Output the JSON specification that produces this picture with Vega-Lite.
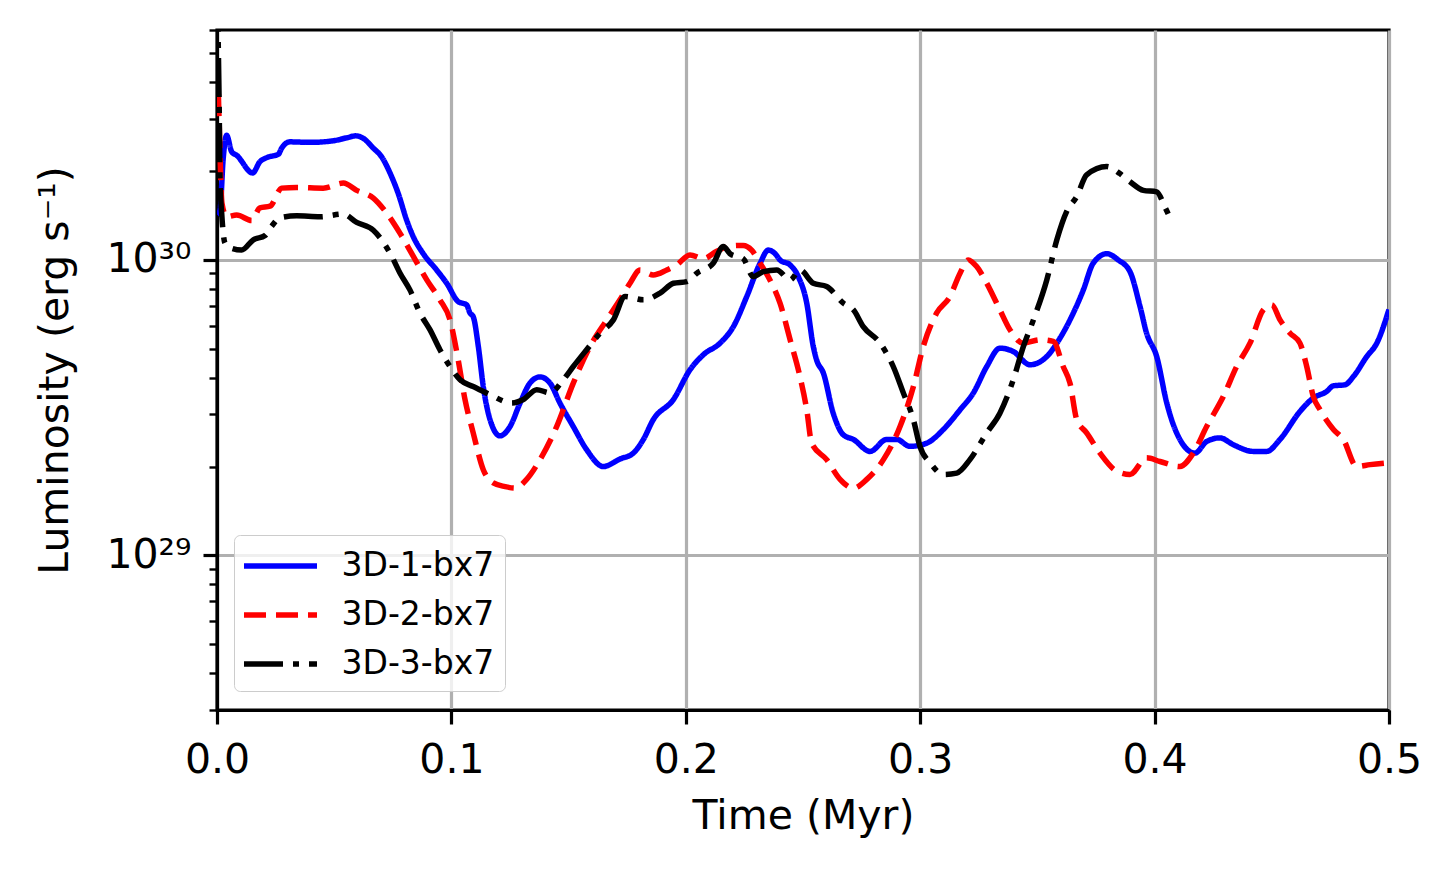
{
  "$schema": "https://vega.github.io/schema/vega-lite/v6.json",
  "description": "Luminosity of three 3D runs over time.",
  "background": "white",
  "autosize": {"type": "none"},
  "padding": {"left": 217, "top": 30, "right": 63, "bottom": 160},
  "width": 1172,
  "height": 680,
  "data": {
    "values": [
      {"s": "3D-1-bx7", "t": 0.0002, "L": 1.42e30},
      {"s": "3D-1-bx7", "t": 0.0013, "L": 1.475e30},
      {"s": "3D-1-bx7", "t": 0.0026, "L": 2.18e30},
      {"s": "3D-1-bx7", "t": 0.0041, "L": 2.64e30},
      {"s": "3D-1-bx7", "t": 0.0063, "L": 2.32e30},
      {"s": "3D-1-bx7", "t": 0.0084, "L": 2.26e30},
      {"s": "3D-1-bx7", "t": 0.0152, "L": 1.97e30},
      {"s": "3D-1-bx7", "t": 0.0183, "L": 2.15e30},
      {"s": "3D-1-bx7", "t": 0.0212, "L": 2.22e30},
      {"s": "3D-1-bx7", "t": 0.0262, "L": 2.28e30},
      {"s": "3D-1-bx7", "t": 0.0276, "L": 2.39e30},
      {"s": "3D-1-bx7", "t": 0.0311, "L": 2.51e30},
      {"s": "3D-1-bx7", "t": 0.0397, "L": 2.50e30},
      {"s": "3D-1-bx7", "t": 0.0495, "L": 2.53e30},
      {"s": "3D-1-bx7", "t": 0.0553, "L": 2.59e30},
      {"s": "3D-1-bx7", "t": 0.0592, "L": 2.63e30},
      {"s": "3D-1-bx7", "t": 0.0624, "L": 2.58e30},
      {"s": "3D-1-bx7", "t": 0.0667, "L": 2.39e30},
      {"s": "3D-1-bx7", "t": 0.0703, "L": 2.23e30},
      {"s": "3D-1-bx7", "t": 0.0738, "L": 1.97e30},
      {"s": "3D-1-bx7", "t": 0.0773, "L": 1.68e30},
      {"s": "3D-1-bx7", "t": 0.0809, "L": 1.365e30},
      {"s": "3D-1-bx7", "t": 0.0837, "L": 1.20e30},
      {"s": "3D-1-bx7", "t": 0.0880, "L": 1.05e30},
      {"s": "3D-1-bx7", "t": 0.0937, "L": 9.25e29},
      {"s": "3D-1-bx7", "t": 0.0980, "L": 8.34e29},
      {"s": "3D-1-bx7", "t": 0.1029, "L": 7.23e29},
      {"s": "3D-1-bx7", "t": 0.1065, "L": 7.05e29},
      {"s": "3D-1-bx7", "t": 0.1079, "L": 6.62e29},
      {"s": "3D-1-bx7", "t": 0.1093, "L": 6.43e29},
      {"s": "3D-1-bx7", "t": 0.1115, "L": 5.09e29},
      {"s": "3D-1-bx7", "t": 0.1136, "L": 3.73e29},
      {"s": "3D-1-bx7", "t": 0.1165, "L": 2.88e29},
      {"s": "3D-1-bx7", "t": 0.1207, "L": 2.54e29},
      {"s": "3D-1-bx7", "t": 0.1250, "L": 2.73e29},
      {"s": "3D-1-bx7", "t": 0.1293, "L": 3.28e29},
      {"s": "3D-1-bx7", "t": 0.1335, "L": 3.83e29},
      {"s": "3D-1-bx7", "t": 0.1378, "L": 4.02e29},
      {"s": "3D-1-bx7", "t": 0.1421, "L": 3.83e29},
      {"s": "3D-1-bx7", "t": 0.1463, "L": 3.28e29},
      {"s": "3D-1-bx7", "t": 0.1520, "L": 2.73e29},
      {"s": "3D-1-bx7", "t": 0.1577, "L": 2.28e29},
      {"s": "3D-1-bx7", "t": 0.1648, "L": 2.00e29},
      {"s": "3D-1-bx7", "t": 0.1719, "L": 2.12e29},
      {"s": "3D-1-bx7", "t": 0.1776, "L": 2.22e29},
      {"s": "3D-1-bx7", "t": 0.1819, "L": 2.47e29},
      {"s": "3D-1-bx7", "t": 0.1861, "L": 2.88e29},
      {"s": "3D-1-bx7", "t": 0.1947, "L": 3.37e29},
      {"s": "3D-1-bx7", "t": 0.2018, "L": 4.25e29},
      {"s": "3D-1-bx7", "t": 0.2075, "L": 4.78e29},
      {"s": "3D-1-bx7", "t": 0.2146, "L": 5.23e29},
      {"s": "3D-1-bx7", "t": 0.2203, "L": 5.95e29},
      {"s": "3D-1-bx7", "t": 0.2260, "L": 7.52e29},
      {"s": "3D-1-bx7", "t": 0.2317, "L": 9.75e29},
      {"s": "3D-1-bx7", "t": 0.2352, "L": 1.08e30},
      {"s": "3D-1-bx7", "t": 0.2381, "L": 1.05e30},
      {"s": "3D-1-bx7", "t": 0.2402, "L": 1.00e30},
      {"s": "3D-1-bx7", "t": 0.2445, "L": 9.62e29},
      {"s": "3D-1-bx7", "t": 0.2480, "L": 8.78e29},
      {"s": "3D-1-bx7", "t": 0.2516, "L": 7.14e29},
      {"s": "3D-1-bx7", "t": 0.2544, "L": 5.09e29},
      {"s": "3D-1-bx7", "t": 0.2558, "L": 4.59e29},
      {"s": "3D-1-bx7", "t": 0.2587, "L": 4.14e29},
      {"s": "3D-1-bx7", "t": 0.2629, "L": 3.03e29},
      {"s": "3D-1-bx7", "t": 0.2672, "L": 2.56e29},
      {"s": "3D-1-bx7", "t": 0.2715, "L": 2.47e29},
      {"s": "3D-1-bx7", "t": 0.2786, "L": 2.25e29},
      {"s": "3D-1-bx7", "t": 0.2857, "L": 2.47e29},
      {"s": "3D-1-bx7", "t": 0.2900, "L": 2.47e29},
      {"s": "3D-1-bx7", "t": 0.2956, "L": 2.34e29},
      {"s": "3D-1-bx7", "t": 0.3028, "L": 2.40e29},
      {"s": "3D-1-bx7", "t": 0.3099, "L": 2.67e29},
      {"s": "3D-1-bx7", "t": 0.3170, "L": 3.11e29},
      {"s": "3D-1-bx7", "t": 0.3227, "L": 3.55e29},
      {"s": "3D-1-bx7", "t": 0.3284, "L": 4.36e29},
      {"s": "3D-1-bx7", "t": 0.3340, "L": 5.03e29},
      {"s": "3D-1-bx7", "t": 0.3397, "L": 4.90e29},
      {"s": "3D-1-bx7", "t": 0.3468, "L": 4.42e29},
      {"s": "3D-1-bx7", "t": 0.3540, "L": 4.71e29},
      {"s": "3D-1-bx7", "t": 0.3583, "L": 5.23e29},
      {"s": "3D-1-bx7", "t": 0.3639, "L": 6.27e29},
      {"s": "3D-1-bx7", "t": 0.3696, "L": 7.92e29},
      {"s": "3D-1-bx7", "t": 0.3738, "L": 9.75e29},
      {"s": "3D-1-bx7", "t": 0.3796, "L": 1.05e30},
      {"s": "3D-1-bx7", "t": 0.3845, "L": 1.00e30},
      {"s": "3D-1-bx7", "t": 0.3895, "L": 9.13e29},
      {"s": "3D-1-bx7", "t": 0.3938, "L": 6.95e29},
      {"s": "3D-1-bx7", "t": 0.3966, "L": 5.65e29},
      {"s": "3D-1-bx7", "t": 0.4009, "L": 4.71e29},
      {"s": "3D-1-bx7", "t": 0.4052, "L": 3.28e29},
      {"s": "3D-1-bx7", "t": 0.4094, "L": 2.60e29},
      {"s": "3D-1-bx7", "t": 0.4172, "L": 2.22e29},
      {"s": "3D-1-bx7", "t": 0.4222, "L": 2.43e29},
      {"s": "3D-1-bx7", "t": 0.4279, "L": 2.50e29},
      {"s": "3D-1-bx7", "t": 0.4336, "L": 2.37e29},
      {"s": "3D-1-bx7", "t": 0.4421, "L": 2.25e29},
      {"s": "3D-1-bx7", "t": 0.4478, "L": 2.25e29},
      {"s": "3D-1-bx7", "t": 0.4535, "L": 2.47e29},
      {"s": "3D-1-bx7", "t": 0.4620, "L": 3.07e29},
      {"s": "3D-1-bx7", "t": 0.4677, "L": 3.41e29},
      {"s": "3D-1-bx7", "t": 0.4734, "L": 3.59e29},
      {"s": "3D-1-bx7", "t": 0.4762, "L": 3.75e29},
      {"s": "3D-1-bx7", "t": 0.4812, "L": 3.78e29},
      {"s": "3D-1-bx7", "t": 0.4848, "L": 4.03e29},
      {"s": "3D-1-bx7", "t": 0.4905, "L": 4.71e29},
      {"s": "3D-1-bx7", "t": 0.4948, "L": 5.23e29},
      {"s": "3D-1-bx7", "t": 0.5000, "L": 6.8e29},

      {"s": "3D-2-bx7", "t": 0.0002, "L": 4.67e30},
      {"s": "3D-2-bx7", "t": 0.0009, "L": 2.97e30},
      {"s": "3D-2-bx7", "t": 0.0015, "L": 2.01e30},
      {"s": "3D-2-bx7", "t": 0.0021, "L": 1.56e30},
      {"s": "3D-2-bx7", "t": 0.0041, "L": 1.40e30},
      {"s": "3D-2-bx7", "t": 0.0084, "L": 1.42e30},
      {"s": "3D-2-bx7", "t": 0.0148, "L": 1.36e30},
      {"s": "3D-2-bx7", "t": 0.0183, "L": 1.50e30},
      {"s": "3D-2-bx7", "t": 0.0226, "L": 1.52e30},
      {"s": "3D-2-bx7", "t": 0.0276, "L": 1.75e30},
      {"s": "3D-2-bx7", "t": 0.0340, "L": 1.76e30},
      {"s": "3D-2-bx7", "t": 0.0453, "L": 1.75e30},
      {"s": "3D-2-bx7", "t": 0.0539, "L": 1.82e30},
      {"s": "3D-2-bx7", "t": 0.0596, "L": 1.72e30},
      {"s": "3D-2-bx7", "t": 0.0667, "L": 1.62e30},
      {"s": "3D-2-bx7", "t": 0.0724, "L": 1.44e30},
      {"s": "3D-2-bx7", "t": 0.0781, "L": 1.23e30},
      {"s": "3D-2-bx7", "t": 0.0837, "L": 1.03e30},
      {"s": "3D-2-bx7", "t": 0.0895, "L": 8.56e29},
      {"s": "3D-2-bx7", "t": 0.0951, "L": 7.33e29},
      {"s": "3D-2-bx7", "t": 0.0994, "L": 6.27e29},
      {"s": "3D-2-bx7", "t": 0.1029, "L": 4.59e29},
      {"s": "3D-2-bx7", "t": 0.1058, "L": 3.37e29},
      {"s": "3D-2-bx7", "t": 0.1093, "L": 2.60e29},
      {"s": "3D-2-bx7", "t": 0.1136, "L": 1.95e29},
      {"s": "3D-2-bx7", "t": 0.1179, "L": 1.76e29},
      {"s": "3D-2-bx7", "t": 0.1229, "L": 1.71e29},
      {"s": "3D-2-bx7", "t": 0.1271, "L": 1.69e29},
      {"s": "3D-2-bx7", "t": 0.1321, "L": 1.81e29},
      {"s": "3D-2-bx7", "t": 0.1378, "L": 2.11e29},
      {"s": "3D-2-bx7", "t": 0.1449, "L": 2.73e29},
      {"s": "3D-2-bx7", "t": 0.1520, "L": 3.83e29},
      {"s": "3D-2-bx7", "t": 0.1591, "L": 5.09e29},
      {"s": "3D-2-bx7", "t": 0.1663, "L": 6.27e29},
      {"s": "3D-2-bx7", "t": 0.1719, "L": 7.33e29},
      {"s": "3D-2-bx7", "t": 0.1762, "L": 8.34e29},
      {"s": "3D-2-bx7", "t": 0.1805, "L": 9.25e29},
      {"s": "3D-2-bx7", "t": 0.1861, "L": 8.90e29},
      {"s": "3D-2-bx7", "t": 0.1919, "L": 9.25e29},
      {"s": "3D-2-bx7", "t": 0.1961, "L": 9.62e29},
      {"s": "3D-2-bx7", "t": 0.2018, "L": 1.04e30},
      {"s": "3D-2-bx7", "t": 0.2075, "L": 1.01e30},
      {"s": "3D-2-bx7", "t": 0.2132, "L": 1.07e30},
      {"s": "3D-2-bx7", "t": 0.2189, "L": 1.115e30},
      {"s": "3D-2-bx7", "t": 0.2245, "L": 1.12e30},
      {"s": "3D-2-bx7", "t": 0.2281, "L": 1.08e30},
      {"s": "3D-2-bx7", "t": 0.2317, "L": 9.75e29},
      {"s": "3D-2-bx7", "t": 0.2359, "L": 8.56e29},
      {"s": "3D-2-bx7", "t": 0.2402, "L": 7.14e29},
      {"s": "3D-2-bx7", "t": 0.2445, "L": 5.37e29},
      {"s": "3D-2-bx7", "t": 0.2487, "L": 4.03e29},
      {"s": "3D-2-bx7", "t": 0.2516, "L": 3.11e29},
      {"s": "3D-2-bx7", "t": 0.2537, "L": 2.40e29},
      {"s": "3D-2-bx7", "t": 0.2601, "L": 2.11e29},
      {"s": "3D-2-bx7", "t": 0.2658, "L": 1.81e29},
      {"s": "3D-2-bx7", "t": 0.2715, "L": 1.69e29},
      {"s": "3D-2-bx7", "t": 0.2772, "L": 1.81e29},
      {"s": "3D-2-bx7", "t": 0.2843, "L": 2.11e29},
      {"s": "3D-2-bx7", "t": 0.2914, "L": 2.73e29},
      {"s": "3D-2-bx7", "t": 0.2971, "L": 3.73e29},
      {"s": "3D-2-bx7", "t": 0.3013, "L": 5.09e29},
      {"s": "3D-2-bx7", "t": 0.3070, "L": 6.61e29},
      {"s": "3D-2-bx7", "t": 0.3127, "L": 7.52e29},
      {"s": "3D-2-bx7", "t": 0.3170, "L": 9.02e29},
      {"s": "3D-2-bx7", "t": 0.3205, "L": 1.00e30},
      {"s": "3D-2-bx7", "t": 0.3241, "L": 9.50e29},
      {"s": "3D-2-bx7", "t": 0.3284, "L": 8.34e29},
      {"s": "3D-2-bx7", "t": 0.3340, "L": 6.78e29},
      {"s": "3D-2-bx7", "t": 0.3383, "L": 5.80e29},
      {"s": "3D-2-bx7", "t": 0.3440, "L": 5.23e29},
      {"s": "3D-2-bx7", "t": 0.3511, "L": 5.37e29},
      {"s": "3D-2-bx7", "t": 0.3568, "L": 5.30e29},
      {"s": "3D-2-bx7", "t": 0.3610, "L": 4.36e29},
      {"s": "3D-2-bx7", "t": 0.3639, "L": 3.83e29},
      {"s": "3D-2-bx7", "t": 0.3668, "L": 2.88e29},
      {"s": "3D-2-bx7", "t": 0.3710, "L": 2.60e29},
      {"s": "3D-2-bx7", "t": 0.3767, "L": 2.22e29},
      {"s": "3D-2-bx7", "t": 0.3838, "L": 1.93e29},
      {"s": "3D-2-bx7", "t": 0.3895, "L": 1.88e29},
      {"s": "3D-2-bx7", "t": 0.3966, "L": 2.14e29},
      {"s": "3D-2-bx7", "t": 0.4023, "L": 2.08e29},
      {"s": "3D-2-bx7", "t": 0.4108, "L": 2.00e29},
      {"s": "3D-2-bx7", "t": 0.4165, "L": 2.22e29},
      {"s": "3D-2-bx7", "t": 0.4222, "L": 2.73e29},
      {"s": "3D-2-bx7", "t": 0.4293, "L": 3.45e29},
      {"s": "3D-2-bx7", "t": 0.4350, "L": 4.36e29},
      {"s": "3D-2-bx7", "t": 0.4407, "L": 5.23e29},
      {"s": "3D-2-bx7", "t": 0.4464, "L": 6.78e29},
      {"s": "3D-2-bx7", "t": 0.4500, "L": 7.05e29},
      {"s": "3D-2-bx7", "t": 0.4535, "L": 6.27e29},
      {"s": "3D-2-bx7", "t": 0.4578, "L": 5.65e29},
      {"s": "3D-2-bx7", "t": 0.4620, "L": 5.23e29},
      {"s": "3D-2-bx7", "t": 0.4649, "L": 4.36e29},
      {"s": "3D-2-bx7", "t": 0.4677, "L": 3.45e29},
      {"s": "3D-2-bx7", "t": 0.4706, "L": 3.11e29},
      {"s": "3D-2-bx7", "t": 0.4763, "L": 2.67e29},
      {"s": "3D-2-bx7", "t": 0.4805, "L": 2.47e29},
      {"s": "3D-2-bx7", "t": 0.4862, "L": 2.00e29},
      {"s": "3D-2-bx7", "t": 0.4919, "L": 2.03e29},
      {"s": "3D-2-bx7", "t": 0.5000, "L": 2.06e29},

      {"s": "3D-3-bx7", "t": 0.0001, "L": 8.0e30},
      {"s": "3D-3-bx7", "t": 0.0009, "L": 3.47e30},
      {"s": "3D-3-bx7", "t": 0.0013, "L": 1.86e30},
      {"s": "3D-3-bx7", "t": 0.0020, "L": 1.44e30},
      {"s": "3D-3-bx7", "t": 0.0034, "L": 1.14e30},
      {"s": "3D-3-bx7", "t": 0.0055, "L": 1.10e30},
      {"s": "3D-3-bx7", "t": 0.0105, "L": 1.08e30},
      {"s": "3D-3-bx7", "t": 0.0155, "L": 1.17e30},
      {"s": "3D-3-bx7", "t": 0.0205, "L": 1.21e30},
      {"s": "3D-3-bx7", "t": 0.0233, "L": 1.30e30},
      {"s": "3D-3-bx7", "t": 0.0269, "L": 1.39e30},
      {"s": "3D-3-bx7", "t": 0.0340, "L": 1.41e30},
      {"s": "3D-3-bx7", "t": 0.0439, "L": 1.40e30},
      {"s": "3D-3-bx7", "t": 0.0539, "L": 1.43e30},
      {"s": "3D-3-bx7", "t": 0.0596, "L": 1.34e30},
      {"s": "3D-3-bx7", "t": 0.0667, "L": 1.26e30},
      {"s": "3D-3-bx7", "t": 0.0709, "L": 1.15e30},
      {"s": "3D-3-bx7", "t": 0.0745, "L": 1.03e30},
      {"s": "3D-3-bx7", "t": 0.0781, "L": 9.02e29},
      {"s": "3D-3-bx7", "t": 0.0823, "L": 7.92e29},
      {"s": "3D-3-bx7", "t": 0.0866, "L": 6.61e29},
      {"s": "3D-3-bx7", "t": 0.0909, "L": 5.80e29},
      {"s": "3D-3-bx7", "t": 0.0951, "L": 4.97e29},
      {"s": "3D-3-bx7", "t": 0.0994, "L": 4.36e29},
      {"s": "3D-3-bx7", "t": 0.1037, "L": 3.93e29},
      {"s": "3D-3-bx7", "t": 0.1093, "L": 3.73e29},
      {"s": "3D-3-bx7", "t": 0.1165, "L": 3.50e29},
      {"s": "3D-3-bx7", "t": 0.1257, "L": 3.28e29},
      {"s": "3D-3-bx7", "t": 0.1307, "L": 3.37e29},
      {"s": "3D-3-bx7", "t": 0.1364, "L": 3.64e29},
      {"s": "3D-3-bx7", "t": 0.1421, "L": 3.55e29},
      {"s": "3D-3-bx7", "t": 0.1477, "L": 3.93e29},
      {"s": "3D-3-bx7", "t": 0.1520, "L": 4.36e29},
      {"s": "3D-3-bx7", "t": 0.1577, "L": 4.97e29},
      {"s": "3D-3-bx7", "t": 0.1634, "L": 5.65e29},
      {"s": "3D-3-bx7", "t": 0.1691, "L": 6.27e29},
      {"s": "3D-3-bx7", "t": 0.1741, "L": 7.52e29},
      {"s": "3D-3-bx7", "t": 0.1819, "L": 7.33e29},
      {"s": "3D-3-bx7", "t": 0.1890, "L": 7.72e29},
      {"s": "3D-3-bx7", "t": 0.1947, "L": 8.34e29},
      {"s": "3D-3-bx7", "t": 0.2004, "L": 8.45e29},
      {"s": "3D-3-bx7", "t": 0.2047, "L": 9.02e29},
      {"s": "3D-3-bx7", "t": 0.2117, "L": 9.75e29},
      {"s": "3D-3-bx7", "t": 0.2160, "L": 1.11e30},
      {"s": "3D-3-bx7", "t": 0.2189, "L": 1.05e30},
      {"s": "3D-3-bx7", "t": 0.2245, "L": 1.01e30},
      {"s": "3D-3-bx7", "t": 0.2288, "L": 8.78e29},
      {"s": "3D-3-bx7", "t": 0.2331, "L": 9.13e29},
      {"s": "3D-3-bx7", "t": 0.2388, "L": 9.25e29},
      {"s": "3D-3-bx7", "t": 0.2445, "L": 8.56e29},
      {"s": "3D-3-bx7", "t": 0.2487, "L": 9.25e29},
      {"s": "3D-3-bx7", "t": 0.2544, "L": 8.34e29},
      {"s": "3D-3-bx7", "t": 0.2601, "L": 8.13e29},
      {"s": "3D-3-bx7", "t": 0.2672, "L": 7.14e29},
      {"s": "3D-3-bx7", "t": 0.2715, "L": 6.78e29},
      {"s": "3D-3-bx7", "t": 0.2757, "L": 5.95e29},
      {"s": "3D-3-bx7", "t": 0.2829, "L": 5.23e29},
      {"s": "3D-3-bx7", "t": 0.2885, "L": 4.36e29},
      {"s": "3D-3-bx7", "t": 0.2928, "L": 3.55e29},
      {"s": "3D-3-bx7", "t": 0.2971, "L": 2.88e29},
      {"s": "3D-3-bx7", "t": 0.2999, "L": 2.34e29},
      {"s": "3D-3-bx7", "t": 0.3042, "L": 2.06e29},
      {"s": "3D-3-bx7", "t": 0.3099, "L": 1.88e29},
      {"s": "3D-3-bx7", "t": 0.3156, "L": 1.90e29},
      {"s": "3D-3-bx7", "t": 0.3212, "L": 2.11e29},
      {"s": "3D-3-bx7", "t": 0.3284, "L": 2.60e29},
      {"s": "3D-3-bx7", "t": 0.3340, "L": 3.03e29},
      {"s": "3D-3-bx7", "t": 0.3397, "L": 3.93e29},
      {"s": "3D-3-bx7", "t": 0.3440, "L": 5.09e29},
      {"s": "3D-3-bx7", "t": 0.3483, "L": 6.27e29},
      {"s": "3D-3-bx7", "t": 0.3540, "L": 8.56e29},
      {"s": "3D-3-bx7", "t": 0.3583, "L": 1.17e30},
      {"s": "3D-3-bx7", "t": 0.3625, "L": 1.46e30},
      {"s": "3D-3-bx7", "t": 0.3668, "L": 1.64e30},
      {"s": "3D-3-bx7", "t": 0.3710, "L": 1.94e30},
      {"s": "3D-3-bx7", "t": 0.3796, "L": 2.07e30},
      {"s": "3D-3-bx7", "t": 0.3852, "L": 1.96e30},
      {"s": "3D-3-bx7", "t": 0.3895, "L": 1.84e30},
      {"s": "3D-3-bx7", "t": 0.3952, "L": 1.72e30},
      {"s": "3D-3-bx7", "t": 0.4009, "L": 1.70e30},
      {"s": "3D-3-bx7", "t": 0.4044, "L": 1.51e30},
      {"s": "3D-3-bx7", "t": 0.4073, "L": 1.35e30}
    ]
  },
  "mark": {"type": "line", "clip": true, "strokeWidth": 5.5, "interpolate": "monotone"},
  "encoding": {
    "x": {
      "field": "t", "type": "quantitative", "title": "Time (Myr)",
      "scale": {"domain": [0, 0.5], "nice": false},
      "axis": {"values": [0, 0.1, 0.2, 0.3, 0.4, 0.5], "format": ".1f", "labelFlush": false}
    },
    "y": {
      "field": "L", "type": "quantitative", "title": "Luminosity (erg s⁻¹)",
      "scale": {"type": "log", "domain": [3e28, 6e30], "nice": false},
      "axis": {
        "values": [3e28, 4e28, 5e28, 6e28, 7e28, 8e28, 9e28, 1e29, 2e29, 3e29, 4e29, 5e29, 6e29, 7e29, 8e29, 9e29, 1e30, 2e30, 3e30, 4e30, 5e30, 6e30],
        "labelExpr": "abs(datum.value / 1e30 - 1) < 0.01 ? '10³⁰' : (abs(datum.value / 1e29 - 1) < 0.01 ? '10²⁹' : '')",
        "labelOverlap": false,
        "labelFlush": false,
        "tickSize": {"condition": {"test": "abs(datum.value / 1e30 - 1) < 0.01 || abs(datum.value / 1e29 - 1) < 0.01", "value": 14}, "value": 8},
        "tickWidth": {"condition": {"test": "abs(datum.value / 1e30 - 1) < 0.01 || abs(datum.value / 1e29 - 1) < 0.01", "value": 3.2}, "value": 2.4},
        "gridOpacity": {"condition": {"test": "abs(datum.value / 1e30 - 1) < 0.01 || abs(datum.value / 1e29 - 1) < 0.01", "value": 1}, "value": 0}
      }
    },
    "color": {
      "field": "s", "type": "nominal", "title": null,
      "scale": {"domain": ["3D-1-bx7", "3D-2-bx7", "3D-3-bx7"], "range": ["#0000ff", "#ff0000", "#000000"]}
    },
    "strokeDash": {
      "field": "s", "type": "nominal", "title": null,
      "scale": {"domain": ["3D-1-bx7", "3D-2-bx7", "3D-3-bx7"], "range": [[1, 0], [22, 10], [39, 10, 6, 10]]}
    }
  },
  "config": {
    "font": "DejaVu Sans",
    "view": {"stroke": "black", "strokeWidth": 3.2},
    "axis": {
      "grid": true,
      "gridColor": "#b0b0b0",
      "gridWidth": 3.2,
      "domainColor": "black",
      "domainWidth": 3.2,
      "tickColor": "black",
      "tickSize": 14,
      "tickWidth": 3.2,
      "labelFont": "DejaVu Sans",
      "labelFontSize": 41,
      "labelColor": "black",
      "labelPadding": 12,
      "titleFont": "DejaVu Sans",
      "titleFontSize": 41,
      "titleFontWeight": "normal",
      "titleColor": "black"
    },
    "axisX": {"labelPadding": 16, "titlePadding": 16},
    "axisY": {"titlePadding": 29},
    "legend": {
      "orient": "none",
      "legendX": 17,
      "legendY": 505,
      "symbolType": "M-2,0H2",
      "symbolSize": 1332,
      "symbolOffset": 15.5,
      "symbolStrokeWidth": 5.5,
      "labelFont": "DejaVu Sans",
      "labelFontSize": 33,
      "labelColor": "black",
      "labelOffset": 40,
      "rowPadding": 11,
      "padding": 10,
      "fillColor": "rgba(255,255,255,0.8)",
      "strokeColor": "#cccccc",
      "cornerRadius": 6
    }
  }
}
